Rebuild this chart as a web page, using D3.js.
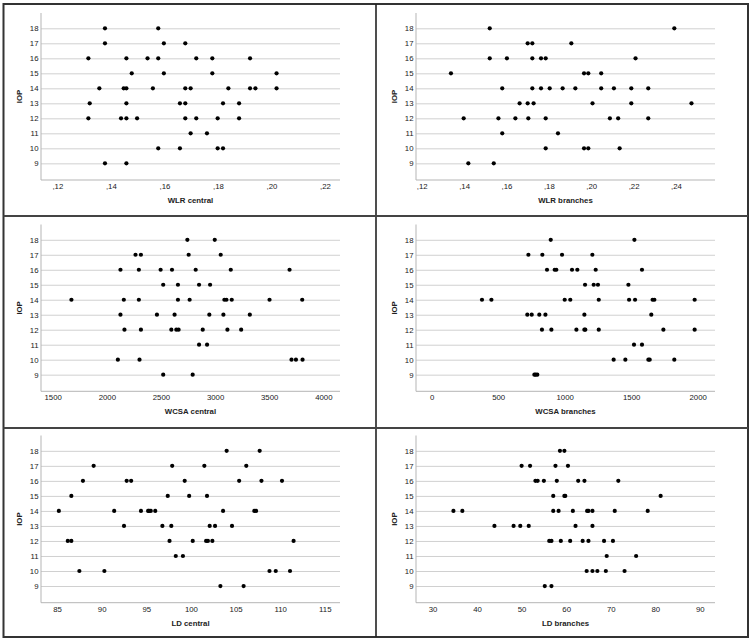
<!DOCTYPE html>
<html>
<head>
<meta charset="utf-8">
<script src="https://cdn.jsdelivr.net/npm/d3@7"></script>
<style>
  html, body { margin: 0; padding: 0; background: #fff; }
  svg { display: block; }
  text { font-family: "Liberation Sans", Arial, sans-serif; fill: #222; }
</style>
</head>
<body>
<svg id="chart" width="751" height="644"></svg>
<script>
// ---------- DATA ----------
const iopTicks = [9, 10, 11, 12, 13, 14, 15, 16, 17, 18];

const wlrCentralIOP = [18,18, 17,17,17, 16,16,16,16,16,16,16, 15,15,15,15,
  14,14,14,14,14,14,14,14,14,14, 13,13,13,13,13,13, 12,12,12,12,12,12,12,12, 11,11, 10,10,10,10, 9,9];
const wlrCentralX = [0.1378,0.1577, 0.1378,0.1598,0.1678,
  0.1316,0.1458,0.1537,0.1577,0.1719,0.1779,0.1920,
  0.1478,0.1598,0.1779,0.2019,
  0.1357,0.1448,0.1458,0.1557,0.1678,0.1698,0.1839,0.1920,0.1940,0.2019,
  0.1321,0.1458,0.1658,0.1678,0.1819,0.1879,
  0.1316,0.1438,0.1458,0.1498,0.1678,0.1719,0.1799,0.1879,
  0.1698,0.1759,
  0.1577,0.1658,0.1799,0.1819,
  0.1378,0.1458];
const wlrCentralTicks = [0.12, 0.14, 0.16, 0.18, 0.20, 0.22];
const wlrCentralTickLabels = [",12", ",14", ",16", ",18", ",20", ",22"];

const wlrBranchesIOP = [18,18, 17,17,17, 16,16,16,16,16,16, 15,15,15,15,
  14,14,14,14,14,14,14,14,14,14, 13,13,13,13,13,13, 12,12,12,12,12,12,12,12, 11,11, 10,10,10,10, 9,9];
const wlrBranchesX = [0.1521,0.2392, 0.1700,0.1722,0.1906,
  0.1521,0.1602,0.1722,0.1763,0.1785,0.2209,
  0.1338,0.1966,0.1986,0.2047,
  0.1580,0.1722,0.1763,0.1804,0.1865,0.1925,0.2047,0.2107,0.2189,0.2269,
  0.1662,0.1700,0.1728,0.2006,0.2189,0.2473,
  0.1398,0.1562,0.1642,0.1703,0.1785,0.2088,0.2127,0.2269,
  0.1580,0.1843,
  0.1785,0.1966,0.1986,0.2134,
  0.1420,0.1540];
const wlrBranchesTicks = [0.12, 0.14, 0.16, 0.18, 0.20, 0.22, 0.24];
const wlrBranchesTickLabels = [",12", ",14", ",16", ",18", ",20", ",22", ",24"];

const wcsaCentralIOP = [18,18, 17,17,17,17, 16,16,16,16,16,16,16, 15,15,15,15,
  14,14,14,14,14,14,14,14,14,14, 13,13,13,13,13,13, 12,12,12,12,12,12,12,12, 11,11, 10,10,10,10,10, 9,9];
const wcsaCentralX = [2744,2997, 2265,2315,2756,3052,
  2126,2296,2497,2602,2821,3145,3688,
  2521,2657,2852,2954,
  1673,2157,2296,2657,2765,3086,3105,3154,3503,3805,
  2126,2463,2626,2947,3077,3321,
  2163,2315,2596,2642,2663,2886,3114,3241,
  2852,2926,
  2102,2302,3706,3747,3808,
  2521,2793];
const wcsaCentralTicks = [1500, 2000, 2500, 3000, 3500, 4000];
const wcsaCentralTickLabels = ["1500", "2000", "2500", "3000", "3500", "4000"];

const wcsaBranchesIOP = [18,18, 17,17,17,17, 16,16,16,16,16,16,16, 15,15,15,15,
  14,14,14,14,14,14,14,14,14,14, 13,13,13,13,13,13, 12,12,12,12,12,12,12,12, 11,11, 10,10,10,10,10, 9,9,9];
const wcsaBranchesX = [895,1524, 727,832,980,1208,
  867,925,937,1055,1095,1233,1581,
  1153,1218,1250,1479,
  378,449,1000,1042,1256,1484,1529,1661,1674,1977,
  719,752,809,855,1148,1651,
  829,900,1088,1148,1155,1256,1742,1977,
  1521,1581,
  1368,1456,1629,1639,1824,
  772,782,794];
const wcsaBranchesTicks = [0, 500, 1000, 1500, 2000];
const wcsaBranchesTickLabels = ["0", "500", "1000", "1500", "2000"];

const ldCentralIOP = [18,18, 17,17,17,17, 16,16,16,16,16,16,16, 15,15,15,15,
  14,14,14,14,14,14,14,14,14,14, 13,13,13,13,13,13, 12,12,12,12,12,12,12,12, 11,11, 10,10,10,10,10, 9,9];
const ldCentralX = [104.0,107.7, 89.1,97.9,101.5,106.2,
  87.9,92.8,93.3,99.3,105.4,107.9,110.2,
  86.6,97.4,99.8,101.8,
  85.2,91.4,94.4,95.2,95.3,95.5,96.0,103.6,107.1,107.3,
  92.5,96.8,97.8,102.1,102.7,104.6,
  86.2,86.6,97.6,100.2,101.7,101.9,102.4,111.5,
  98.3,99.1,
  87.5,90.3,108.8,109.5,111.1,
  103.3,105.9];
const ldCentralTicks = [85, 90, 95, 100, 105, 110, 115];
const ldCentralTickLabels = ["85", "90", "95", "100", "105", "110", "115"];

const ldBranchesIOP = [18,18, 17,17,17,17, 16,16,16,16,16,16,16, 15,15,15,15,
  14,14,14,14,14,14,14,14,14,14, 13,13,13,13,13,13, 12,12,12,12,12,12,12,12, 11,11, 10,10,10,10,10, 9,9];
const ldBranchesX = [58.6,59.6, 50.0,51.9,57.6,60.4,
  53.1,53.6,55.0,57.9,62.7,64.1,71.7,
  57.1,59.6,59.8,81.2,
  34.7,36.7,57.1,58.3,61.5,64.7,65.0,65.9,70.9,78.3,
  43.9,48.2,49.7,51.6,62.1,65.9,
  56.2,56.7,58.8,60.9,63.7,65.0,68.5,70.5,
  69.1,75.7,
  64.6,65.9,67.0,68.9,73.1,
  55.2,56.7];
const ldBranchesTicks = [30, 40, 50, 60, 70, 80, 90];
const ldBranchesTickLabels = ["30", "40", "50", "60", "70", "80", "90"];

// ---------- LAYOUT ----------
const panels = [
  { xs: wlrCentralX,   ys: wlrCentralIOP,   title: "WLR central",   dom: [0.1139, 0.2256], ticks: wlrCentralTicks,   labels: wlrCentralTickLabels,   col: 0, row: 0 },
  { xs: wlrBranchesX,  ys: wlrBranchesIOP,  title: "WLR branches",  dom: [0.1173, 0.2584], ticks: wlrBranchesTicks,  labels: wlrBranchesTickLabels,  col: 1, row: 0 },
  { xs: wcsaCentralX,  ys: wcsaCentralIOP,  title: "WCSA central",  dom: [1392, 4154],     ticks: wcsaCentralTicks,  labels: wcsaCentralTickLabels,  col: 0, row: 1 },
  { xs: wcsaBranchesX, ys: wcsaBranchesIOP, title: "WCSA branches", dom: [-118, 2130],     ticks: wcsaBranchesTicks, labels: wcsaBranchesTickLabels, col: 1, row: 1 },
  { xs: ldCentralX,    ys: ldCentralIOP,    title: "LD central",    dom: [83.2, 116.7],    ticks: ldCentralTicks,    labels: ldCentralTickLabels,    col: 0, row: 2 },
  { xs: ldBranchesX,   ys: ldBranchesIOP,   title: "LD branches",   dom: [26.3, 93.4],     ticks: ldBranchesTicks,   labels: ldBranchesTickLabels,   col: 1, row: 2 }
];

const colLeft = [41, 416];
const plotW = 299;
const rowTop = [13, 224.5, 435.5];
const rowBottom = [180, 391.3, 602.7];
const FONT = "'Liberation Sans', Arial, sans-serif";

const svg = d3.select("#chart");

// frame
svg.append("rect").attr("x", 3.5).attr("y", 4).attr("width", 744.5).attr("height", 633)
  .attr("fill", "none").attr("stroke", "#333").attr("stroke-width", 2);
svg.append("line").attr("x1", 376).attr("x2", 376).attr("y1", 4).attr("y2", 637)
  .attr("stroke", "#222").attr("stroke-width", 1.6);
[216, 428].forEach(yy => {
  svg.append("line").attr("x1", 3.5).attr("x2", 748).attr("y1", yy).attr("y2", yy)
    .attr("stroke", "#444").attr("stroke-width", 2);
});

panels.forEach(p => {
  const x0 = colLeft[p.col], x1 = x0 + plotW;
  const yT = rowTop[p.row], yB = rowBottom[p.row];
  const x = d3.scaleLinear().domain(p.dom).range([x0, x1]);
  const y = d3.scaleLinear().domain([7.89, 19.02]).range([yB, yT]);
  const g = svg.append("g");

  // gridlines + y tick labels
  const ya = g.append("g").attr("transform", `translate(${x0},0)`)
    .call(d3.axisLeft(y).tickValues(iopTicks).tickSize(-plotW).tickPadding(2.5).tickFormat(d3.format("d")));
  ya.select(".domain").remove();
  ya.selectAll(".tick line").attr("stroke", "#d0d0d0").attr("stroke-width", 1);
  ya.selectAll(".tick text").attr("font-size", 7.8).attr("fill", "#1a1a1a")
    .style("font-family", FONT);

  // x axis
  const xa = g.append("g").attr("transform", `translate(0,${yB})`)
    .call(d3.axisBottom(x).tickValues(p.ticks).tickSize(0).tickPadding(3.5)
      .tickFormat((d, i) => p.labels[i]));
  xa.select(".domain").remove();
  xa.selectAll(".tick text").attr("font-size", 7.8).attr("fill", "#1a1a1a")
    .style("font-family", FONT);

  // axis lines
  g.append("line").attr("x1", x0).attr("x2", x1).attr("y1", yB).attr("y2", yB)
    .attr("stroke", "#b5b5b5").attr("stroke-width", 1);
  g.append("line").attr("x1", x0).attr("x2", x0).attr("y1", yT).attr("y2", yB)
    .attr("stroke", "#b5b5b5").attr("stroke-width", 1);

  // titles
  g.append("text").attr("x", (x0 + x1) / 2).attr("y", yB + 23)
    .attr("text-anchor", "middle").attr("font-size", 7.8).attr("font-weight", "bold")
    .attr("fill", "#111").text(p.title);
  g.append("text").attr("transform", `translate(${x0 - 19},${(yT + yB) / 2}) rotate(-90)`)
    .attr("text-anchor", "middle").attr("font-size", 7.8).attr("font-weight", "bold")
    .attr("fill", "#111").text("IOP");

  // points
  g.append("g").selectAll("circle").data(p.xs).join("circle")
    .attr("cx", d => x(d)).attr("cy", (d, i) => y(p.ys[i]))
    .attr("r", 2.1).attr("fill", "#000");
});
</script>
</body>
</html>
